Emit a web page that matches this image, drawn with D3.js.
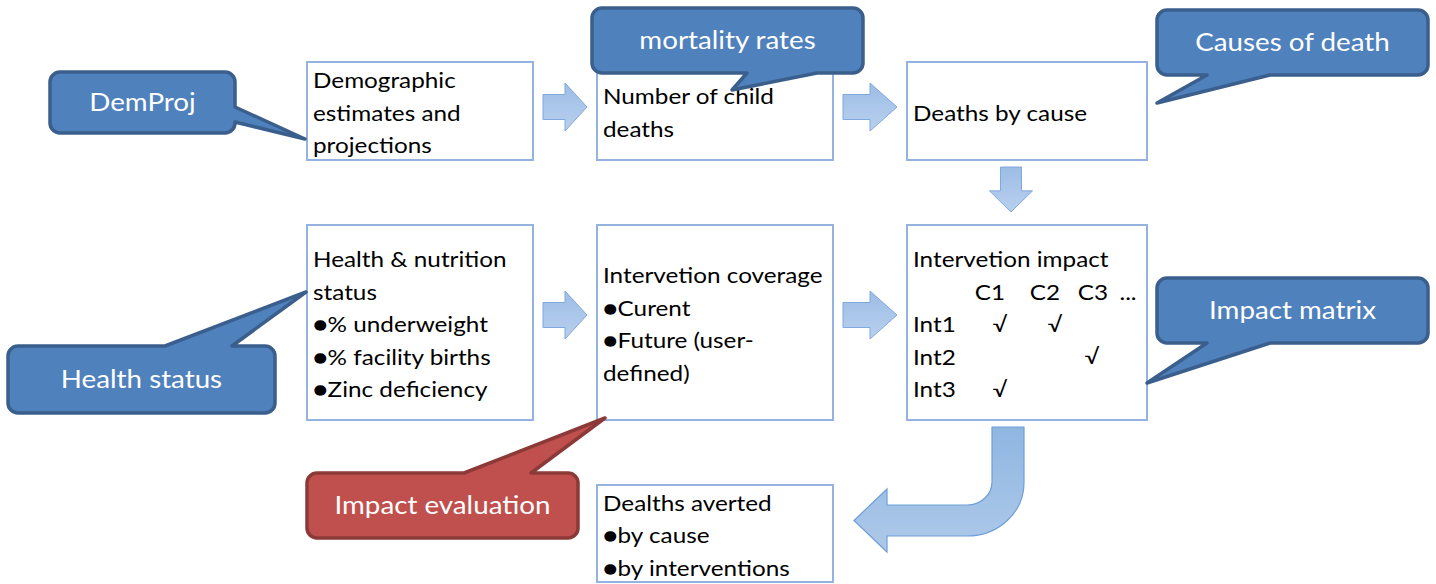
<!DOCTYPE html>
<html>
<head>
<meta charset="utf-8">
<script src="https://cdn.jsdelivr.net/npm/d3@7"></script>
<style>
  body { margin: 0; background: #fff; }
  text { font-family: Lato, "Open Sans", sans-serif; }
</style>
</head>
<body>
<div id="my_dataviz"></div>
<script>
// boxes of the flow, by grid cell
var boxCols = [0, 1, 2, 0, 1, 2, 1];
var boxRows = [0, 0, 0, 1, 1, 1, 2];
var boxLines = [
  ["Demographic", "estimates and", "projections"],
  ["Number of child", "deaths"],
  ["Deaths by cause"],
  ["Health & nutrition", "status", "\u25CF% underweight", "\u25CF% facility births", "\u25CFZinc deficiency"],
  ["Intervetion coverage", "\u25CFCurent", "\u25CFFuture (user-", "defined)"],
  ["Intervetion impact", "", "Int1", "Int2", "Int3"],
  ["Dealths averted", "\u25CFby cause", "\u25CFby interventions"]
];

// impact matrix inside box 6
var causes = ["C1", "C2", "C3", "..."];
var interventions = ["Int1", "Int2", "Int3"];
var impactMatrix = [[1, 1, 0], [0, 0, 1], [1, 0, 0]];

// callouts
var calloutLabels = ["DemProj", "mortality rates", "Causes of death", "Health status", "Impact matrix", "Impact evaluation"];
var calloutKinds = ["blue", "blue", "blue", "blue", "blue", "red"];

// straight arrows: from box -> to box
var arrowFrom = [0, 1, 3, 4, 2];
var arrowTo = [1, 2, 4, 5, 5];

var width = 1436, height = 584;
var sx = 1.13; // glyphs in the reference are wider than Lato

var svg = d3.select("#my_dataviz").append("svg")
  .attr("width", width).attr("height", height);

// layout scales
var colX = d3.scaleOrdinal().domain([0, 1, 2]).range([307, 597, 907]);
var colW = d3.scaleOrdinal().domain([0, 1, 2]).range([226, 236, 240]);
var rowY = d3.scaleOrdinal().domain([0, 1, 2]).range([62, 225, 485]);
var rowH = d3.scaleOrdinal().domain([0, 1, 2]).range([98, 195, 97]);
var lineStep = 32.5;

function boxRect(i) {
  return { x: colX(boxCols[i]), y: rowY(boxRows[i]), w: colW(boxCols[i]), h: rowH(boxRows[i]) };
}
function place(x, y) { return "translate(" + x + "," + y + ") scale(" + sx + ",1)"; }

var defs = svg.append("defs");
var g1 = defs.append("linearGradient").attr("id", "arrowGrad").attr("x1", 0).attr("y1", 0).attr("x2", 0).attr("y2", 1);
g1.append("stop").attr("offset", "0%").attr("stop-color", "#9dbde6");
g1.append("stop").attr("offset", "100%").attr("stop-color", "#b8d0ee");
var g2 = defs.append("linearGradient").attr("id", "bentGrad").attr("x1", 0).attr("y1", 0).attr("x2", 0).attr("y2", 1);
g2.append("stop").attr("offset", "0%").attr("stop-color", "#8fb6e2");
g2.append("stop").attr("offset", "100%").attr("stop-color", "#aec9e9");

// boxes
var boxG = svg.selectAll(".box").data(boxLines).enter().append("g").attr("class", "box");
boxG.append("rect")
  .attr("x", function (d, i) { return boxRect(i).x; })
  .attr("y", function (d, i) { return boxRect(i).y; })
  .attr("width", function (d, i) { return boxRect(i).w; })
  .attr("height", function (d, i) { return boxRect(i).h; })
  .attr("fill", "#fff")
  .attr("stroke", "#95b3e0")
  .attr("stroke-width", 2);

boxG.each(function (lines, i) {
  var r = boxRect(i);
  var cy = r.y + r.h / 2 + 2;
  d3.select(this).selectAll("text").data(lines).enter().append("text")
    .attr("transform", function (d, j) { return place(r.x + 6, cy + (j - (lines.length - 1) / 2) * lineStep); })
    .attr("dy", "0.35em")
    .attr("font-size", 21.5)
    .attr("fill", "#000")
    .text(function (d) { return d; });
});

// matrix header and check marks
var m = boxRect(5);
var mCy = m.y + m.h / 2 + 2;
var causeX = d3.scaleOrdinal().domain(causes).range([990, 1045, 1093, 1128]);
var checkX = d3.scaleOrdinal().domain(causes).range([1000, 1055, 1092, 1128]);
var lineY = function (j) { return mCy + (j - 2) * lineStep; };
svg.selectAll(".cause").data(causes).enter().append("text")
  .attr("class", "cause")
  .attr("transform", function (d) { return place(causeX(d), lineY(1)); })
  .attr("dy", "0.35em")
  .attr("text-anchor", "middle")
  .attr("font-size", 21.5)
  .text(function (d) { return d; });
impactMatrix.forEach(function (row, r) {
  row.forEach(function (v, c) {
    if (!v) return;
    svg.append("text")
      .attr("transform", place(checkX(causes[c]), lineY(r + 2)))
      .attr("dy", "0.35em")
      .attr("text-anchor", "middle")
      .attr("font-size", 21)
      .attr("font-family", "DejaVu Sans")
      .text("\u221A");
  });
});

// straight block arrows
function rightArrow(x0, x1, cy) {
  var hs = 12.5, hh = 24, hx = x0 + (x1 - x0) * 0.5;
  return "M" + x0 + "," + (cy - hs) + "L" + hx + "," + (cy - hs) + "L" + hx + "," + (cy - hh) +
    "L" + x1 + "," + cy + "L" + hx + "," + (cy + hh) + "L" + hx + "," + (cy + hs) + "L" + x0 + "," + (cy + hs) + "Z";
}
function downArrow(cx, y0, y1) {
  var hs = 10.5, hh = 21.5, hy = y0 + (y1 - y0) * 0.53;
  return "M" + (cx - hs) + "," + y0 + "L" + (cx + hs) + "," + y0 + "L" + (cx + hs) + "," + hy +
    "L" + (cx + hh) + "," + hy + "L" + cx + "," + y1 + "L" + (cx - hh) + "," + hy + "L" + (cx - hs) + "," + hy + "Z";
}
svg.selectAll(".arrow").data(arrowFrom).enter().append("path")
  .attr("class", "arrow")
  .attr("d", function (f, i) {
    var a = boxRect(f), b = boxRect(arrowTo[i]);
    if (boxRows[f] === boxRows[arrowTo[i]]) {
      return rightArrow(a.x + a.w + 10, b.x - 10, a.y + (boxRows[f] === 0 ? 45 : 90));
    }
    return downArrow(a.x + 104, a.y + a.h + 7, b.y - 13);
  })
  .attr("fill", "url(#arrowGrad)")
  .attr("stroke", "#7fa8dc")
  .attr("stroke-width", 1);

// bent arrow from impact box down to deaths averted
var bs = boxRect(5), bt = boxRect(6);
var sx0 = bs.x + 85, sx1 = bs.x + 117, sy = bs.y + bs.h + 7;
var hy0 = 505, hy1 = 536, hbx = bt.x + bt.w + 54, tipX = bt.x + bt.w + 21;
var bentPath = "M" + sx0 + "," + sy + "L" + sx1 + "," + sy + "L" + sx1 + "," + 483 +
  "A57,53 0 0 1 " + (sx0 - 25) + "," + hy1 +
  "L" + hbx + "," + hy1 + "L" + hbx + "," + 552 + "L" + tipX + "," + ((hy0 + hy1) / 2) +
  "L" + hbx + "," + 489 + "L" + hbx + "," + hy0 +
  "L" + (sx0 - 25) + "," + hy0 + "A25,23 0 0 0 " + sx0 + "," + 482 + "Z";
svg.append("path").attr("d", bentPath)
  .attr("fill", "url(#bentGrad)")
  .attr("stroke", "#6f9fd6")
  .attr("stroke-width", 1.2);

// callouts: rect + tail (side, two base points along walking direction, tip)
var calloutGeom = [
  { x: 50, y: 72, w: 185, h: 61, side: "right", b: [107, 122], tip: [305, 139] },
  { x: 592, y: 8, w: 271, h: 65, side: "bottom", b: [817, 747], tip: [732, 90] },
  { x: 1157, y: 10, w: 271, h: 65, side: "bottom", b: [1270, 1207], tip: [1157, 103] },
  { x: 8, y: 346, w: 267, h: 67, side: "top", b: [165, 232], tip: [306, 292] },
  { x: 1157, y: 278, w: 271, h: 65, side: "bottom", b: [1270, 1207], tip: [1147, 383] },
  { x: 307, y: 473, w: 271, h: 65, side: "top", b: [464, 531], tip: [605, 418] }
];
function calloutPath(c) {
  var r = 10, x = c.x, y = c.y, w = c.w, h = c.h;
  var p = d3.path();
  p.moveTo(x + r, y);
  if (c.side === "top") { p.lineTo(c.b[0], y); p.lineTo(c.tip[0], c.tip[1]); p.lineTo(c.b[1], y); }
  p.lineTo(x + w - r, y);
  p.arcTo(x + w, y, x + w, y + r, r);
  if (c.side === "right") { p.lineTo(x + w, c.b[0]); p.lineTo(c.tip[0], c.tip[1]); p.lineTo(x + w, c.b[1]); }
  p.lineTo(x + w, y + h - r);
  p.arcTo(x + w, y + h, x + w - r, y + h, r);
  if (c.side === "bottom") { p.lineTo(c.b[0], y + h); p.lineTo(c.tip[0], c.tip[1]); p.lineTo(c.b[1], y + h); }
  p.lineTo(x + r, y + h);
  p.arcTo(x, y + h, x, y + h - r, r);
  p.lineTo(x, y + r);
  p.arcTo(x, y, x + r, y, r);
  p.closePath();
  return p.toString();
}
var fills = { blue: "#4f81bd", red: "#c0504d" };
var strokes = { blue: "#3b5f8c", red: "#8c3a38" };
var cg = svg.selectAll(".callout").data(calloutLabels).enter().append("g").attr("class", "callout");
cg.append("path")
  .attr("d", function (d, i) { return calloutPath(calloutGeom[i]); })
  .attr("fill", function (d, i) { return fills[calloutKinds[i]]; })
  .attr("stroke", function (d, i) { return strokes[calloutKinds[i]]; })
  .attr("stroke-width", 3.5)
  .attr("stroke-linejoin", "round");
cg.append("text")
  .attr("transform", function (d, i) {
    return "translate(" + (calloutGeom[i].x + calloutGeom[i].w / 2) + "," + (calloutGeom[i].y + calloutGeom[i].h / 2) + ") scale(1.11,1)";
  })
  .attr("dy", "0.35em")
  .attr("text-anchor", "middle")
  .attr("font-size", 25)
  .attr("fill", "#fff")
  .text(function (d) { return d; });
</script>
</body>
</html>
